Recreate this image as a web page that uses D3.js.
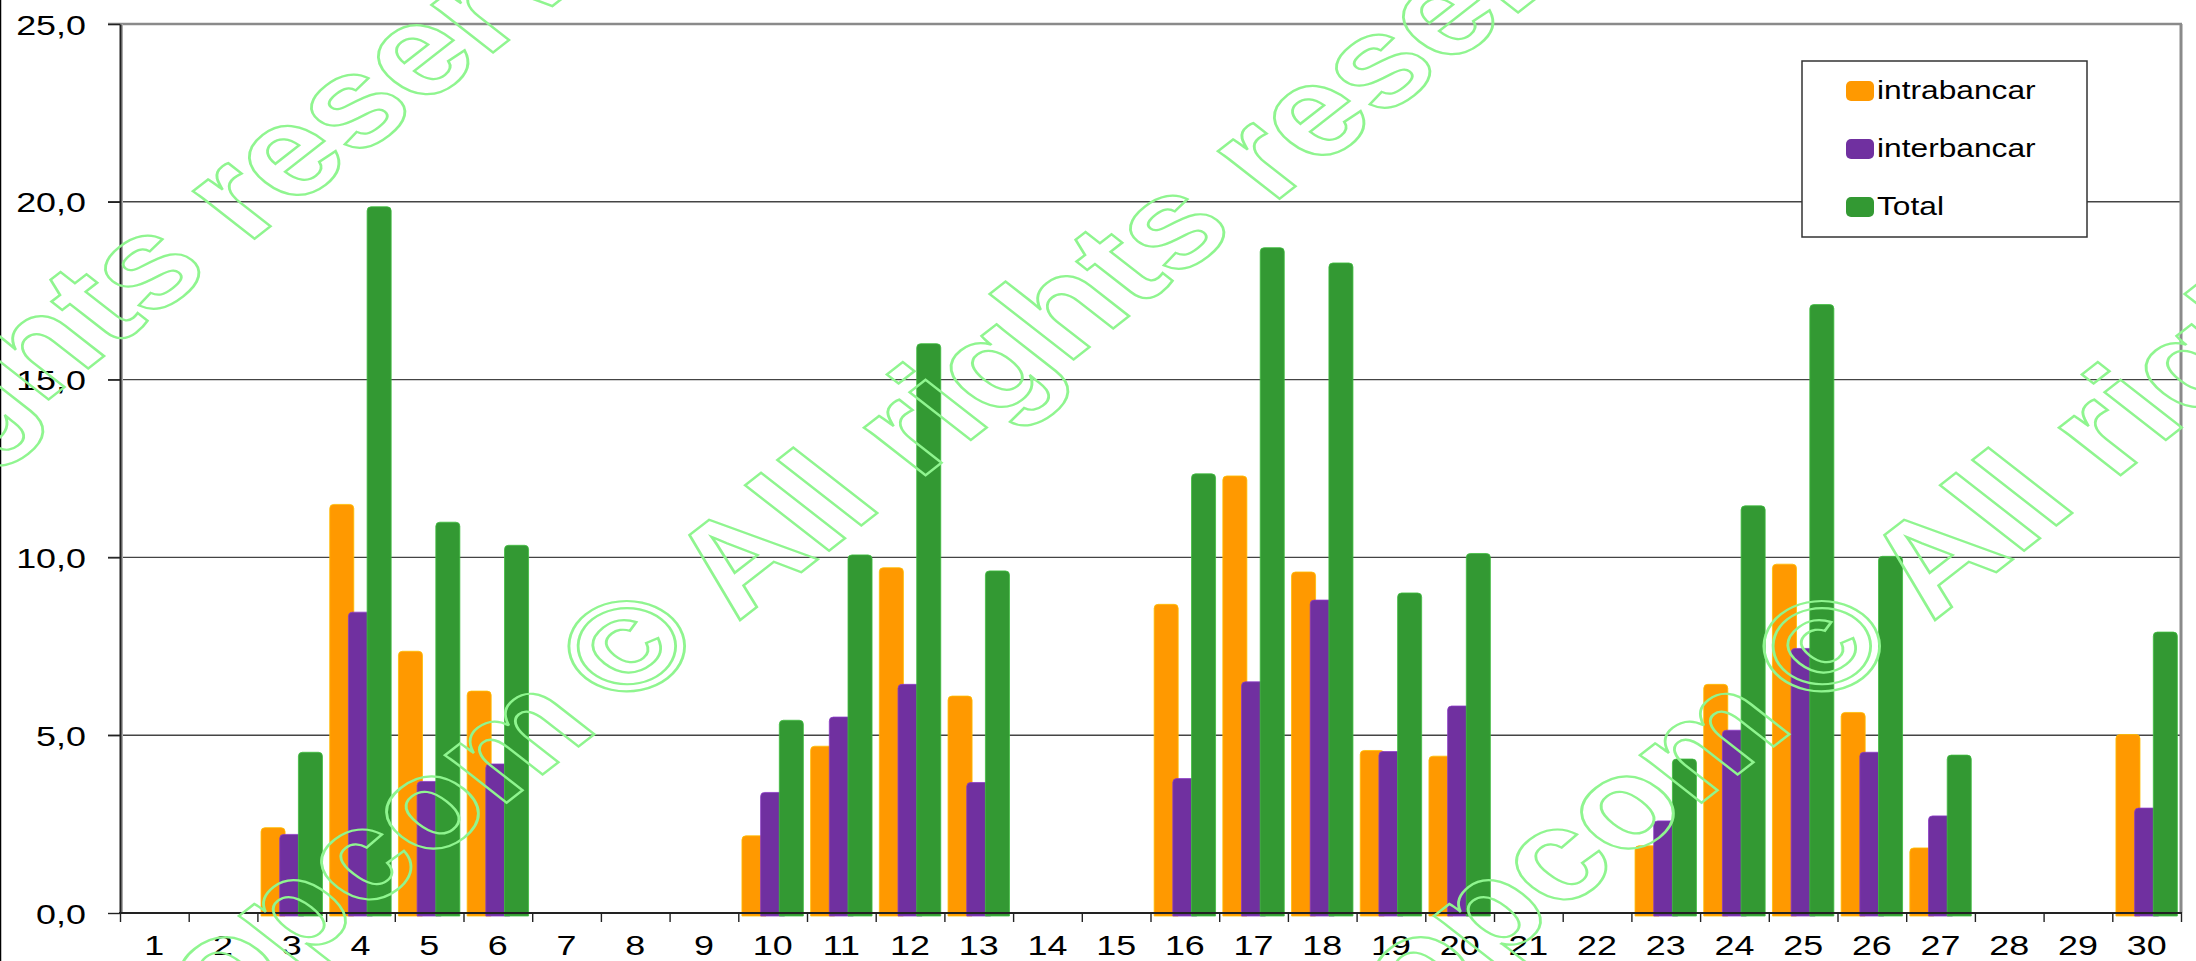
<!DOCTYPE html>
<html lang="ro">
<head>
<meta charset="UTF-8">
<script src="https://d3js.org/d3.v7.min.js"></script>
<style>
  body { margin: 0; background: #fff; }
  svg { display: block; font-family: "Liberation Sans", Arial, sans-serif; }
</style>
</head>
<body>
<svg width="2196" height="961"></svg>
<script>
// zile
const days = ["1","2","3","4","5","6","7","8","9","10","11","12","13","14","15",
              "16","17","18","19","20","21","22","23","24","25","26","27","28","29","30"];

const intrabancar = [0, 0, 2.40, 11.49, 7.36, 6.24, 0, 0, 0, 2.17, 4.69, 9.71, 6.10, 0, 0,
                     8.68, 12.29, 9.59, 4.57, 4.41, 0, 0, 1.89, 6.43, 9.81, 5.64, 1.83, 0, 0, 5.02];
const interbancar = [0, 0, 2.21, 8.46, 3.70, 4.19, 0, 0, 0, 3.39, 5.51, 6.43, 3.67, 0, 0,
                     3.78, 6.50, 8.80, 4.54, 5.82, 0, 0, 2.59, 5.14, 7.44, 4.52, 2.73, 0, 0, 2.95];
const total       = [0, 0, 4.52, 19.86, 10.99, 10.34, 0, 0, 0, 5.42, 10.07, 16.01, 9.62, 0, 0,
                     12.35, 18.71, 18.28, 9.00, 10.11, 0, 0, 4.33, 11.45, 17.11, 10.03, 4.44, 0, 0, 7.90];

const seriesNames = ["intrabancar", "interbancar", "Total"];
const seriesColors = ["#FF9900", "#7030A0", "#339933"];
const yTicks = [0, 5, 10, 15, 20, 25];

const svg = d3.select("svg");
const pLeft = 120, pRight = 2181, pTop = 24, pBottom = 913;
const sx = 1.33; // text is a bit wide in the original

let x = d3.scaleBand().domain(days).range([pLeft, pRight]).padding(0);
let xEdge = d3.scaleLinear().domain([0, days.length]).range([pLeft, pRight]);
let y = d3.scaleLinear().domain([0, 25]).range([pBottom, pTop]);

// outer frame line on the left
svg.append("line").attr("x1", 0.5).attr("x2", 0.5).attr("y1", 0).attr("y2", 961)
  .attr("stroke", "#000").attr("stroke-width", 1.5);

// grid
svg.append("g").selectAll("line")
  .data(yTicks.filter(d => d > 0 && d < 25))
  .enter().append("line")
  .attr("x1", pLeft - 12).attr("x2", pRight)
  .attr("y1", d => y(d)).attr("y2", d => y(d))
  .attr("stroke", "#444").attr("stroke-width", 1.4);

// plot border (grey)
svg.append("line").attr("x1", pLeft - 12).attr("x2", pRight + 1).attr("y1", pTop).attr("y2", pTop)
  .attr("stroke", "#8a8a8a").attr("stroke-width", 2.5);
svg.append("line").attr("x1", pRight).attr("x2", pRight).attr("y1", pTop).attr("y2", pBottom)
  .attr("stroke", "#8a8a8a").attr("stroke-width", 3);
svg.append("line").attr("x1", pLeft + 2).attr("x2", pLeft + 2).attr("y1", pTop).attr("y2", pBottom)
  .attr("stroke", "#aaa").attr("stroke-width", 2);

// y axis
let yAxis = svg.append("g")
  .attr("transform", `translate(${pLeft},0)`)
  .call(d3.axisLeft(y).tickValues(yTicks).tickSize(12).tickSizeOuter(0)
        .tickFormat(d => d3.format(".1f")(d).replace(".", ",")));
yAxis.select(".domain").attr("stroke", "#222").attr("stroke-width", 2);
yAxis.selectAll(".tick line").attr("stroke", "#222").attr("stroke-width", 1.4);
yAxis.selectAll(".tick text")
  .attr("x", -34 / sx).attr("dy", null).attr("y", 10)
  .attr("transform", `scale(${sx},1)`)
  .attr("font-size", 27).attr("fill", "#000")
  .attr("font-family", "Liberation Sans, Arial, sans-serif");

// bars
let groups = [intrabancar, interbancar, total];
let barW = x.bandwidth() * 0.35, step = x.bandwidth() * 0.272;
let off = (x.bandwidth() - (barW + 2 * step)) / 2;

function barPath(x0, yt, w, yb) {
  let r = Math.min(4, (yb - yt) / 2);
  return `M${x0},${yb}L${x0},${yt + r}Q${x0},${yt} ${x0 + r},${yt}L${x0 + w - r},${yt}Q${x0 + w},${yt} ${x0 + w},${yt + r}L${x0 + w},${yb}Z`;
}

groups.forEach((vals, si) => {
  let data = days.map((d, i) => ({ day: d, v: vals[i] })).filter(d => d.v > 0);
  svg.append("g").selectAll("path")
    .data(data)
    .enter().append("path")
    .attr("d", d => barPath(x(d.day) + off + si * step, y(d.v), barW, y(0) + 3))
    .attr("fill", seriesColors[si])
    .attr("stroke", d3.color(seriesColors[si]).brighter(0.6))
    .attr("stroke-width", 0.8);
});

// x axis: labels + boundary ticks
let xAxis = svg.append("g")
  .attr("transform", `translate(0,${pBottom})`)
  .call(d3.axisBottom(x).tickSize(0).tickSizeOuter(0));
xAxis.select(".domain").remove();
xAxis.selectAll(".tick text")
  .attr("x", 0).attr("y", 42).attr("dy", null)
  .attr("transform", `scale(${sx},1)`)
  .attr("font-size", 27).attr("fill", "#000")
  .attr("font-family", "Liberation Sans, Arial, sans-serif");
svg.append("line").attr("x1", pLeft - 1).attr("x2", pRight + 1).attr("y1", pBottom).attr("y2", pBottom)
  .attr("stroke", "#222").attr("stroke-width", 2);
svg.append("g").attr("transform", `translate(0,${pBottom})`)
  .call(d3.axisBottom(xEdge).tickValues(d3.range(days.length + 1)).tickSize(9).tickFormat(""))
  .call(g => g.select(".domain").remove())
  .selectAll(".tick line").attr("stroke", "#222").attr("stroke-width", 1.4);

// legend
let lg = svg.append("g");
lg.append("rect").attr("x", 1802).attr("y", 61).attr("width", 285).attr("height", 176)
  .attr("fill", "#fff").attr("stroke", "#333").attr("stroke-width", 1.5);
seriesNames.forEach((name, i) => {
  let cy = 91 + i * 58;
  lg.append("rect").attr("x", 1846).attr("y", cy - 10).attr("width", 28).attr("height", 20)
    .attr("rx", 5).attr("fill", seriesColors[i]);
  lg.append("text")
    .attr("transform", `translate(1877,${cy + 8}) scale(1.22,1)`)
    .attr("font-size", 26).attr("fill", "#000")
    .text(name);
});

// watermark
const wmCenters = [[-400, 685], [625, 645], [1820, 645]];
let wm = svg.append("g").attr("transform", "scale(1.28,1)")
  .attr("pointer-events", "none");
wmCenters.forEach(([cx, cy]) => {
  let g = wm.append("g").attr("transform", `translate(${cx / 1.28},${cy}) rotate(-45)`);
  let t1 = g.append("text").attr("text-anchor", "end").attr("x", -72).attr("y", 46)
    .text("opcom");
  let t2 = g.append("text").attr("x", -47).attr("y", 46).text("© All rights reserved");
  [t1, t2].forEach(t => t.attr("font-family", "Liberation Sans, Arial, sans-serif").attr("font-weight", "bold")
    .attr("font-size", 128).attr("fill", "none").attr("stroke", "#8ff58f").attr("stroke-width", 2.2));
});
</script>
</body>
</html>
